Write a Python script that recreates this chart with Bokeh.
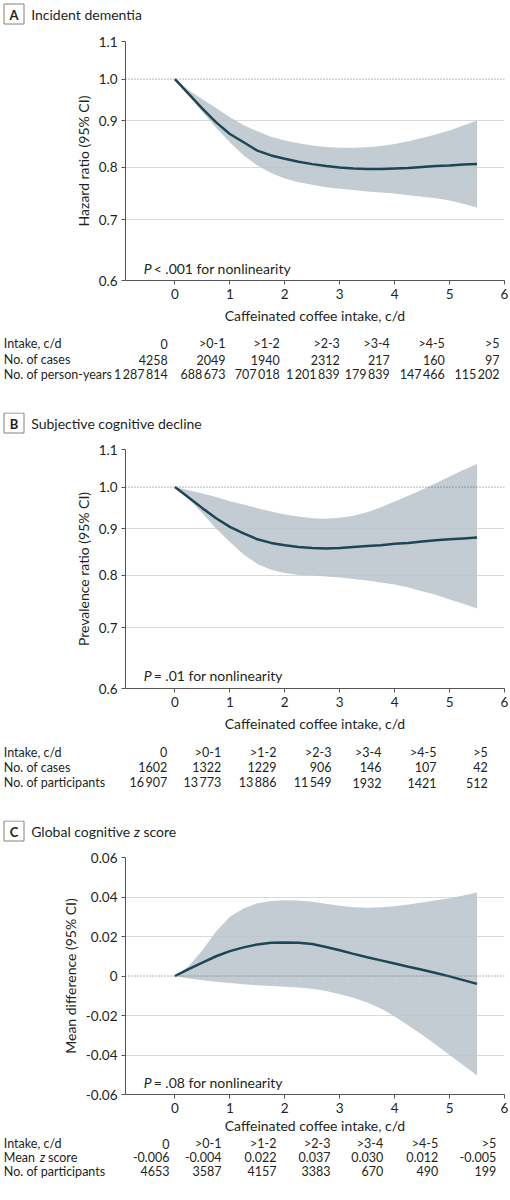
from bokeh.plotting import figure
from bokeh.layouts import column
from bokeh.models import Range1d, FixedTicker, Span, Label, CustomJSTickFormatter
from bokeh.core.properties import value
from bokeh.embed import file_html
from bokeh.resources import INLINE

FONT = "Lato"
INK = "#231f20"
BAND = "#b8c3ca"
CURVE = "#1d4654"
GRID = "#d9d9d9"
AXIS = "#555555"
W = 508

# caffeinated coffee intake, c/d (x of the spline curves)
intake = [0, 0.25, 0.5, 0.75, 1.0, 1.25, 1.5, 1.75, 2.0, 2.25, 2.5, 2.75,
          3.0, 3.25, 3.5, 3.75, 4.0, 4.25, 4.5, 4.75, 5.0, 5.25, 5.5]

# A: incident dementia, hazard ratio and 95% CI
dementia_hr = [1.0, 0.963, 0.928, 0.896, 0.870, 0.852, 0.834, 0.824, 0.817, 0.811, 0.806, 0.802,
               0.799, 0.797, 0.796, 0.796, 0.797, 0.798, 0.800, 0.802, 0.803, 0.805, 0.806]
dementia_lo = [1.0, 0.960, 0.920, 0.884, 0.852, 0.824, 0.803, 0.788, 0.777, 0.770, 0.765, 0.760,
               0.757, 0.755, 0.752, 0.750, 0.748, 0.745, 0.742, 0.739, 0.735, 0.729, 0.722]
dementia_hi = [1.0, 0.972, 0.950, 0.929, 0.908, 0.890, 0.876, 0.864, 0.856, 0.850, 0.845, 0.842,
               0.840, 0.840, 0.841, 0.844, 0.848, 0.854, 0.861, 0.869, 0.878, 0.889, 0.900]

# B: subjective cognitive decline, prevalence ratio and 95% CI
scd_pr = [1.0, 0.974, 0.948, 0.924, 0.904, 0.889, 0.876, 0.868, 0.863, 0.859, 0.857, 0.856,
          0.857, 0.859, 0.861, 0.863, 0.866, 0.868, 0.871, 0.874, 0.876, 0.878, 0.880]
scd_lo = [1.0, 0.970, 0.936, 0.900, 0.870, 0.843, 0.823, 0.811, 0.804, 0.800, 0.799, 0.797,
          0.795, 0.792, 0.789, 0.785, 0.781, 0.775, 0.768, 0.761, 0.752, 0.744, 0.735]
scd_hi = [1.0, 0.992, 0.984, 0.975, 0.965, 0.957, 0.948, 0.940, 0.933, 0.928, 0.924, 0.923,
          0.925, 0.930, 0.938, 0.950, 0.964, 0.978, 0.993, 1.010, 1.027, 1.044, 1.060]

# C: global cognitive z score, mean difference and 95% CI
z_md = [0.0, 0.0035, 0.0068, 0.0100, 0.0126, 0.0145, 0.0160, 0.0168, 0.0170, 0.0168, 0.0162, 0.0147,
        0.0130, 0.0112, 0.0095, 0.0079, 0.0063, 0.0047, 0.0032, 0.0015, -0.0002, -0.0021, -0.0040]
z_lo = [0.0, -0.0013, -0.0021, -0.0029, -0.0036, -0.0042, -0.0047, -0.0050, -0.0054, -0.0058, -0.0065, -0.0076,
        -0.0092, -0.0110, -0.0134, -0.0165, -0.0205, -0.0250, -0.0298, -0.0348, -0.0400, -0.0452, -0.0504]
z_hi = [0.0, 0.0050, 0.0130, 0.0225, 0.0300, 0.0342, 0.0368, 0.0380, 0.0384, 0.0382, 0.0376, 0.0366,
        0.0356, 0.0348, 0.0346, 0.0348, 0.0353, 0.0362, 0.0372, 0.0383, 0.0394, 0.0408, 0.0423]

# tables under the panels
intake_groups = ["0", ">0-1", ">1-2", ">2-3", ">3-4", ">4-5", ">5"]
dementia_cases = [4258, 2049, 1940, 2312, 217, 160, 97]
dementia_person_years = [1287814, 688673, 707018, 1201839, 179839, 147466, 115202]
scd_cases = [1602, 1322, 1229, 906, 146, 107, 42]
scd_participants = [16907, 13773, 13886, 11549, 1932, 1421, 512]
z_mean_score = [-0.006, -0.004, 0.022, 0.037, 0.030, 0.012, -0.005]
z_participants = [4653, 3587, 4157, 3383, 670, 490, 199]

x_ticks = [0, 1, 2, 3, 4, 5, 6]
ratio_ticks = [0.6, 0.7, 0.8, 0.9, 1.0, 1.1]
diff_ticks = [-0.06, -0.04, -0.02, 0, 0.02, 0.04, 0.06]

TAB_SIZE = "12.5px"


def count(n):
    s = str(n)
    if n >= 10000:
        s = f"{n:,}".replace(",", "\u2009")
    return s


def blank(height):
    p = figure(width=W, height=height, x_range=Range1d(0, W), y_range=Range1d(height, 0),
               x_axis_location=None, y_axis_location=None, toolbar_location=None,
               output_backend="svg", min_border=0)
    p.grid.visible = False
    p.outline_line_color = None
    return p


def txt(p, x, y, text, size, style="normal", align="left"):
    p.text(x=x, y=y, text=text, text_font=value(FONT), text_font_size=size,
           text_font_style=style, text_align=align, text_baseline="middle", text_color=INK)


def header(letter, pieces, height, top):
    p = blank(height)
    p.quad(left=[3.5], right=[23.5], top=[top + 0.5], bottom=[top + 20.5], fill_color="white",
           line_color="#808080", line_width=1)
    txt(p, [13.5], [top + 11], [letter], "13px", "bold", "center")
    for x, t, style in pieces:
        txt(p, [x], [top + 11], [t], "14px", style)
    return column(p)


def table(rows, col_right, row_y, height):
    p = blank(height)
    for (label, cells), y in zip(rows, row_y):
        for x, t, style in label:
            txt(p, [x], [y], [t], TAB_SIZE, style)
        txt(p, col_right, [y] * len(cells), cells, TAB_SIZE, "normal", "right")
    return column(p)


def panel(height, border_bottom, y_lo, y_hi, log, y_ticks, grid_ticks, fmt, ylabel,
          ref_level, est, lo, hi, p_y, p_rest, xlabel_standoff):
    p = figure(width=W, height=height, x_range=Range1d(-0.9, 6), y_range=Range1d(y_lo, y_hi),
               y_axis_type="log" if log else "linear", toolbar_location=None,
               output_backend="svg", min_border_left=125, min_border_right=4,
               min_border_top=10, min_border_bottom=border_bottom)
    p.outline_line_color = None
    p.xgrid.visible = False
    p.ygrid.ticker = FixedTicker(ticks=grid_ticks)
    p.ygrid.grid_line_color = GRID
    p.xaxis.ticker = FixedTicker(ticks=x_ticks)
    p.yaxis.ticker = FixedTicker(ticks=y_ticks)
    p.yaxis.formatter = CustomJSTickFormatter(code=fmt)
    p.xaxis.axis_label = "Caffeinated coffee intake, c/d"
    p.yaxis.axis_label = ylabel
    for ax in p.axis:
        ax.axis_line_color = AXIS
        ax.major_tick_line_color = AXIS
        ax.major_tick_out = 4
        ax.major_tick_in = 0
        ax.minor_tick_line_color = None
        ax.major_label_text_font = FONT
        ax.major_label_text_font_size = "13.5px"
        ax.major_label_text_color = INK
        ax.axis_label_text_font = FONT
        ax.axis_label_text_font_size = "14px"
        ax.axis_label_text_font_style = "normal"
        ax.axis_label_text_color = INK
    p.xaxis.major_label_standoff = 4
    p.xaxis.axis_label_standoff = xlabel_standoff
    p.yaxis.major_label_standoff = 4
    p.yaxis.axis_label_standoff = 4

    p.varea(x=intake, y1=lo, y2=hi, fill_color=BAND, fill_alpha=0.85)
    p.add_layout(Span(location=ref_level, dimension="width", line_color="#666666",
                      line_dash="1 2", line_width=1))
    p.line(intake, est, line_color=CURVE, line_width=2.5)

    p.add_layout(Label(x=-0.57, y=p_y, text="P", text_font=FONT, text_font_size="14px",
                       text_font_style="italic", text_baseline="middle", text_color=INK))
    p.add_layout(Label(x=-0.57, y=p_y, x_offset=10, text=p_rest, text_font=FONT,
                       text_font_size="14px", text_baseline="middle", text_color=INK))
    return p


ratio_fmt = "return tick.toFixed(1);"
diff_fmt = "return Math.abs(tick) < 1e-9 ? '0' : tick.toFixed(2);"

cols_a = [167.3, 225, 279.3, 339.3, 389.3, 444.3, 499]
cols_b = [166.7, 220.7, 276, 331, 381, 436, 487.3]
cols_c = [169, 221, 276, 330, 382.7, 437.7, 495.7]

head_a = header("A", [(30.7, "Incident dementia", "normal")], 31, 3)
plot_a = panel(296, 47, 0.6, 1.1, True, ratio_ticks, [0.7, 0.8, 0.9, 1.1], ratio_fmt,
               "Hazard ratio (95% CI)", 1.0, dementia_hr, dementia_lo, dementia_hi,
               0.618, "< .001 for nonlinearity", 5)
tab_a = table([
    ([(3.3, "Intake, c/d", "normal")], intake_groups),
    ([(3.3, "No. of cases", "normal")], [count(v) for v in dementia_cases]),
    ([(3.3, "No. of person-years", "normal")], [count(v) for v in dementia_person_years]),
], cols_a, [16, 32, 47], 85)

head_b = header("B", [(30.7, "Subjective cognitive decline", "normal")], 27, 0)
plot_b = panel(296, 47, 0.6, 1.1, True, ratio_ticks, [0.7, 0.8, 0.9, 1.1], ratio_fmt,
               "Prevalence ratio (95% CI)", 1.0, scd_pr, scd_lo, scd_hi,
               0.620, "= .01 for nonlinearity", 5)
tab_b = table([
    ([(3.3, "Intake, c/d", "normal")], intake_groups),
    ([(3.3, "No. of cases", "normal")], [count(v) for v in scd_cases]),
    ([(3.3, "No. of participants", "normal")], [count(v) for v in scd_participants]),
], cols_b, [16.7, 31.7, 47], 85)

head_c = header("C", [(30.7, "Global cognitive", "normal"), (133.5, "z", "italic"),
                      (143, "score", "normal")], 27, 0)
plot_c = panel(289, 40, -0.06, 0.06, False, diff_ticks, [-0.04, -0.02, 0.02, 0.04, 0.06], diff_fmt,
               "Mean difference (95% CI)", 0.0, z_md, z_lo, z_hi,
               -0.0541, "= .08 for nonlinearity", 1)
tab_c = table([
    ([(3.3, "Intake, c/d", "normal")], intake_groups),
    ([(3.3, "Mean", "normal"), (39.5, "z", "italic"), (47.5, "score", "normal")],
     [f"{v:.3f}" for v in z_mean_score]),
    ([(3.3, "No. of participants", "normal")], [count(v) for v in z_participants]),
], cols_c, [7.3, 20.7, 34.7], 45)

page = column(head_a, plot_a, tab_a, head_b, plot_b, tab_b, head_c, plot_c, tab_c, spacing=0)

open("out.html", "w").write(file_html(page, INLINE))
